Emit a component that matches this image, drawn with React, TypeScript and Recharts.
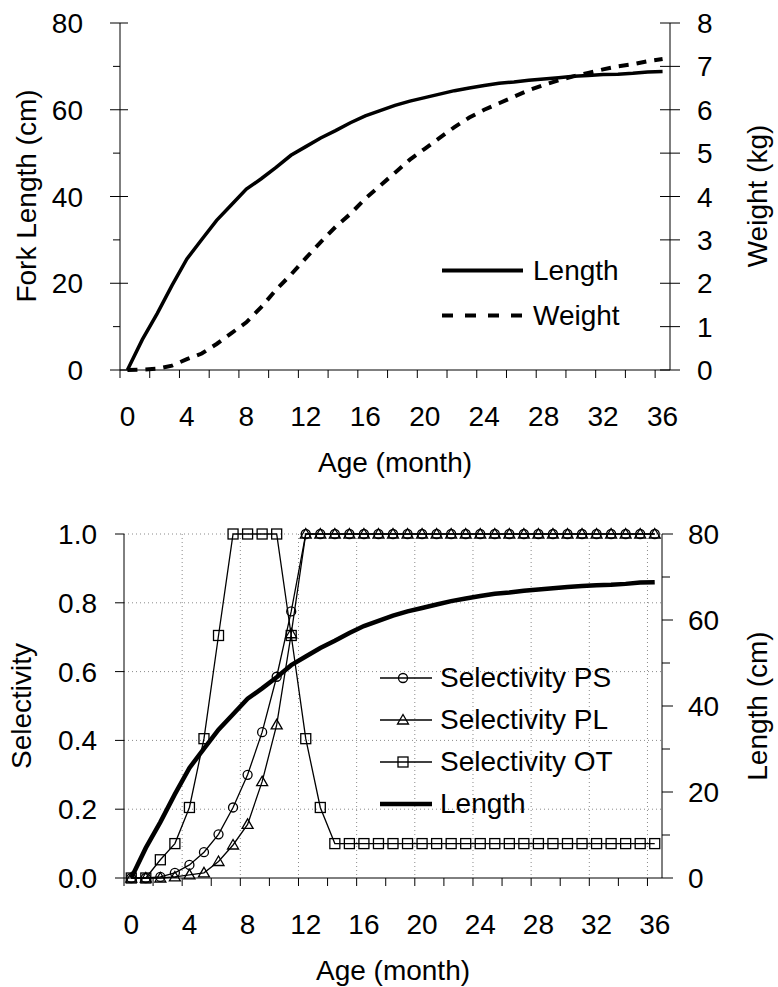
import { CartesianGrid, Legend, Line, LineChart, XAxis, YAxis } from 'recharts';

// ages in months (categories)
const AGES = [
  0, 1, 2, 3, 4, 5, 6, 7, 8, 9, 10, 11, 12, 13, 14, 15, 16, 17, 18, 19, 20, 21, 22, 23, 24, 25, 26, 27,
  28, 29, 30, 31, 32, 33, 34, 35, 36,
];

// fork length (cm)
const LENGTH = [
  0, 7, 13, 19.5, 25.6, 30.1, 34.5, 38.1, 41.7, 44.1, 46.7, 49.5, 51.5, 53.5, 55.2, 57.0, 58.6, 59.8, 61.0,
  62.0, 62.8, 63.6, 64.4, 65.0, 65.6, 66.1, 66.4, 66.8, 67.1, 67.4, 67.7, 67.9, 68.1, 68.2, 68.4, 68.7, 68.8,
];

// weight (kg)
const WEIGHT = [
  0, 0.01, 0.03, 0.1, 0.25, 0.38, 0.6, 0.85, 1.1, 1.45, 1.85, 2.2, 2.58, 2.95, 3.3, 3.6, 3.95, 4.25, 4.55,
  4.85, 5.1, 5.35, 5.6, 5.82, 6.0, 6.15, 6.3, 6.45, 6.57, 6.68, 6.77, 6.85, 6.93, 7.0, 7.05, 7.12, 7.17,
];

const SEL_PS = [
  0, 0, 0.003, 0.015, 0.038, 0.075, 0.127, 0.205, 0.3, 0.424, 0.585, 0.775, 1, 1, 1, 1, 1, 1, 1, 1, 1, 1,
  1, 1, 1, 1, 1, 1, 1, 1, 1, 1, 1, 1, 1, 1, 1,
];

const SEL_PL = [
  0, 0, 0, 0.003, 0.009, 0.015, 0.048, 0.096, 0.156, 0.28, 0.445, 0.71, 1, 1, 1, 1, 1, 1, 1, 1, 1, 1, 1,
  1, 1, 1, 1, 1, 1, 1, 1, 1, 1, 1, 1, 1, 1,
];

const SEL_OT = [
  0, 0, 0.053, 0.1, 0.205, 0.405, 0.705, 1, 1, 1, 1, 0.705, 0.405, 0.205, 0.1, 0.1, 0.1, 0.1, 0.1, 0.1,
  0.1, 0.1, 0.1, 0.1, 0.1, 0.1, 0.1, 0.1, 0.1, 0.1, 0.1, 0.1, 0.1, 0.1, 0.1, 0.1, 0.1,
];

const X_TICKS = [0, 2, 4, 6, 8, 10, 12, 14, 16, 18, 20, 22, 24, 26, 28, 30, 32, 34, 36];
const X_GRID = [4, 8, 12, 16, 20, 24, 28, 32, 36];
const LEN_TICKS = [0, 10, 20, 30, 40, 50, 60, 70, 80];
const WEIGHT_TICKS = [0, 1, 2, 3, 4, 5, 6, 7, 8];
const SEL_TICKS = [0, 0.2, 0.4, 0.6, 0.8, 1];

const FONT = '"Liberation Sans", Arial, Helvetica, sans-serif';
const FS = 28;

// points sit in the middle of each age category (category axis look)
const topData = AGES.map((age, i) => ({ x: age + 0.5, length: LENGTH[i], weight: WEIGHT[i] }));
const bottomData = AGES.map((age, i) => ({
  x: age + 0.5,
  ps: SEL_PS[i],
  pl: SEL_PL[i],
  ot: SEL_OT[i],
  length: LENGTH[i],
}));

const txt = { fontFamily: FONT, fontSize: FS, fill: '#000' };

const makeXTick = (half: number) => (props: any) => {
  const { x, y, payload } = props;
  const v = payload.value;
  return (
    <g key={`xt-${v}`}>
      <line x1={x} y1={y} x2={x} y2={y + 8} stroke="#000" />
      {v % 4 === 0 && (
        <text x={x + half} y={y + 56} textAnchor="middle" {...txt}>
          {v}
        </text>
      )}
    </g>
  );
};

const lengthTickLeft = (props: any) => {
  const { x, y, payload } = props;
  const v = payload.value;
  const major = v % 20 === 0;
  return (
    <g key={`ll-${v}`}>
      <line x1={major ? x - 10 : x - 7} x2={major ? x + 8 : x} y1={y} y2={y} stroke="#000" />
      {major && (
        <text x={x - 37} y={y + 10} textAnchor="end" {...txt}>
          {v}
        </text>
      )}
    </g>
  );
};

const weightTick = (props: any) => {
  const { x, y, payload } = props;
  return (
    <g key={`w-${payload.value}`}>
      <line x1={x - 10} x2={x + 10} y1={y} y2={y} stroke="#000" />
      <text x={x + 27} y={y + 10} textAnchor="start" {...txt}>
        {payload.value}
      </text>
    </g>
  );
};

const selTick = (props: any) => {
  const { x, y, payload } = props;
  return (
    <g key={`s-${payload.value}`}>
      <line x1={x - 9} x2={x} y1={y} y2={y} stroke="#000" />
      <text x={x - 27} y={y + 10} textAnchor="end" {...txt}>
        {Number(payload.value).toFixed(1)}
      </text>
    </g>
  );
};

const lengthTickRight = (props: any) => {
  const { x, y, payload } = props;
  const v = payload.value;
  const major = v % 20 === 0;
  return (
    <g key={`lr-${v}`}>
      <line x1={x} x2={x + (major ? 11 : 8)} y1={y} y2={y} stroke="#000" />
      {major && (
        <text x={x + 26} y={y + 10} textAnchor="start" {...txt}>
          {v}
        </text>
      )}
    </g>
  );
};

type Shape = 'circle' | 'triangle' | 'square';

const marker = (shape: Shape, cx: number, cy: number, key?: string) => {
  const st = { fill: 'none', stroke: '#000', strokeWidth: 1.3 };
  if (shape === 'circle') return <circle key={key} cx={cx} cy={cy} r={4.5} {...st} />;
  if (shape === 'triangle')
    return (
      <polygon key={key} points={`${cx},${cy - 5.5} ${cx + 5.5},${cy + 4} ${cx - 5.5},${cy + 4}`} {...st} />
    );
  return <rect key={key} x={cx - 5} y={cy - 5} width={10} height={10} {...st} />;
};

const dotOf = (shape: Shape) => (props: any) => {
  const { cx, cy, index } = props;
  if (cx == null || cy == null) return <g key={`${shape}-${index}`} />;
  return marker(shape, cx, cy, `${shape}-${index}`);
};

const TOP_LEGEND = [
  { name: 'Length', dash: undefined as string | undefined },
  { name: 'Weight', dash: '11 12' },
];

const TopLegend = () => (
  <div style={{ fontFamily: FONT, fontSize: FS, color: '#000' }}>
    {TOP_LEGEND.map((item) => (
      <div key={item.name} style={{ display: 'flex', alignItems: 'center', height: 45 }}>
        <svg width={81} height={45}>
          <line x1={0} x2={81} y1={22.5} y2={22.5} stroke="#000" strokeWidth={4} strokeDasharray={item.dash} />
        </svg>
        <span style={{ marginLeft: 10, lineHeight: '45px', whiteSpace: 'nowrap' }}>{item.name}</span>
      </div>
    ))}
  </div>
);

const BOTTOM_LEGEND: { name: string; shape?: Shape }[] = [
  { name: 'Selectivity PS', shape: 'circle' },
  { name: 'Selectivity PL', shape: 'triangle' },
  { name: 'Selectivity OT', shape: 'square' },
  { name: 'Length' },
];

const BottomLegend = () => (
  <div style={{ fontFamily: FONT, fontSize: FS, color: '#000' }}>
    {BOTTOM_LEGEND.map((item) => (
      <div key={item.name} style={{ display: 'flex', alignItems: 'center', height: 42 }}>
        <svg width={52} height={42}>
          <line x1={0} x2={52} y1={21} y2={21} stroke="#000" strokeWidth={item.shape ? 1.3 : 4.5} />
          {item.shape && marker(item.shape, 23, 21)}
        </svg>
        <span style={{ marginLeft: 8, lineHeight: '42px', whiteSpace: 'nowrap' }}>{item.name}</span>
      </div>
    ))}
  </div>
);

const TopChart = () => (
  <LineChart width={778} height={490} data={topData} margin={{ top: 23, right: 48, bottom: 80, left: 60 }}>
    <XAxis
      dataKey="x"
      type="number"
      domain={[0, 37]}
      ticks={X_TICKS}
      interval={0}
      height={40}
      tickSize={0}
      tickMargin={0}
      tickLine={false}
      tick={makeXTick(550 / 37 / 2)}
      axisLine={{ stroke: '#000' }}
    />
    <YAxis
      yAxisId="left"
      domain={[0, 80]}
      ticks={LEN_TICKS}
      interval={0}
      width={60}
      tickSize={0}
      tickMargin={0}
      tickLine={false}
      tick={lengthTickLeft}
      axisLine={{ stroke: '#000' }}
    />
    <YAxis
      yAxisId="right"
      orientation="right"
      domain={[0, 8]}
      ticks={WEIGHT_TICKS}
      interval={0}
      width={60}
      tickSize={0}
      tickMargin={0}
      tickLine={false}
      tick={weightTick}
      axisLine={{ stroke: '#000' }}
    />
    <Legend
      layout="vertical"
      align="center"
      verticalAlign="middle"
      content={<TopLegend />}
      wrapperStyle={{ left: 442, top: 248, width: 'auto' }}
    />
    <Line
      yAxisId="left"
      type="linear"
      dataKey="length"
      stroke="#000"
      strokeWidth={3.5}
      dot={false}
      activeDot={false}
      isAnimationActive={false}
    />
    <Line
      yAxisId="right"
      type="linear"
      dataKey="weight"
      stroke="#000"
      strokeWidth={4}
      strokeDasharray="10 8"
      dot={false}
      activeDot={false}
      isAnimationActive={false}
    />
    <text x={36} y={196} transform="rotate(-90, 36, 196)" textAnchor="middle" {...txt}>
      Fork Length (cm)
    </text>
    <text x={767} y={196} transform="rotate(-90, 767, 196)" textAnchor="middle" {...txt}>
      Weight (kg)
    </text>
    <text x={395} y={472} textAnchor="middle" {...txt}>
      Age (month)
    </text>
  </LineChart>
);

const BottomChart = () => (
  <LineChart width={778} height={497} data={bottomData} margin={{ top: 44, right: 56, bottom: 69, left: 64 }}>
    <CartesianGrid
      yAxisId="left"
      horizontalValues={[0.2, 0.4, 0.6, 0.8, 1]}
      verticalValues={X_GRID}
      stroke="#8a8a8a"
      strokeDasharray="1 3"
    />
    <XAxis
      dataKey="x"
      type="number"
      domain={[0, 37]}
      ticks={X_TICKS}
      interval={0}
      height={40}
      tickSize={0}
      tickMargin={0}
      tickLine={false}
      tick={makeXTick(538 / 37 / 2)}
      axisLine={{ stroke: '#000' }}
    />
    <YAxis
      yAxisId="left"
      domain={[0, 1]}
      ticks={SEL_TICKS}
      interval={0}
      width={60}
      tickSize={0}
      tickMargin={0}
      tickLine={false}
      tick={selTick}
      axisLine={{ stroke: '#000' }}
    />
    <YAxis
      yAxisId="right"
      orientation="right"
      domain={[0, 80]}
      ticks={LEN_TICKS}
      interval={0}
      width={60}
      tickSize={0}
      tickMargin={0}
      tickLine={false}
      tick={lengthTickRight}
      axisLine={{ stroke: '#000' }}
    />
    <Legend
      layout="vertical"
      align="center"
      verticalAlign="middle"
      content={<BottomLegend />}
      wrapperStyle={{ left: 380, top: 167, width: 'auto' }}
    />
    <Line
      yAxisId="left"
      type="linear"
      dataKey="ps"
      stroke="#000"
      strokeWidth={1.3}
      dot={dotOf('circle')}
      activeDot={false}
      isAnimationActive={false}
    />
    <Line
      yAxisId="left"
      type="linear"
      dataKey="pl"
      stroke="#000"
      strokeWidth={1.3}
      dot={dotOf('triangle')}
      activeDot={false}
      isAnimationActive={false}
    />
    <Line
      yAxisId="left"
      type="linear"
      dataKey="ot"
      stroke="#000"
      strokeWidth={1.3}
      dot={dotOf('square')}
      activeDot={false}
      isAnimationActive={false}
    />
    <Line
      yAxisId="right"
      type="linear"
      dataKey="length"
      stroke="#000"
      strokeWidth={4.5}
      dot={false}
      activeDot={false}
      isAnimationActive={false}
    />
    <text x={31} y={216} transform="rotate(-90, 31, 216)" textAnchor="middle" {...txt}>
      Selectivity
    </text>
    <text x={767} y={216} transform="rotate(-90, 767, 216)" textAnchor="middle" {...txt}>
      Length (cm)
    </text>
    <text x={393} y={490} textAnchor="middle" {...txt}>
      Age (month)
    </text>
  </LineChart>
);

export default function App() {
  return (
    <div style={{ position: 'absolute', left: 0, top: 0, width: 778, height: 987, background: '#fff' }}>
      <div style={{ position: 'absolute', left: 0, top: 0 }}>
        <TopChart />
      </div>
      <div style={{ position: 'absolute', left: 0, top: 490 }}>
        <BottomChart />
      </div>
    </div>
  );
}
